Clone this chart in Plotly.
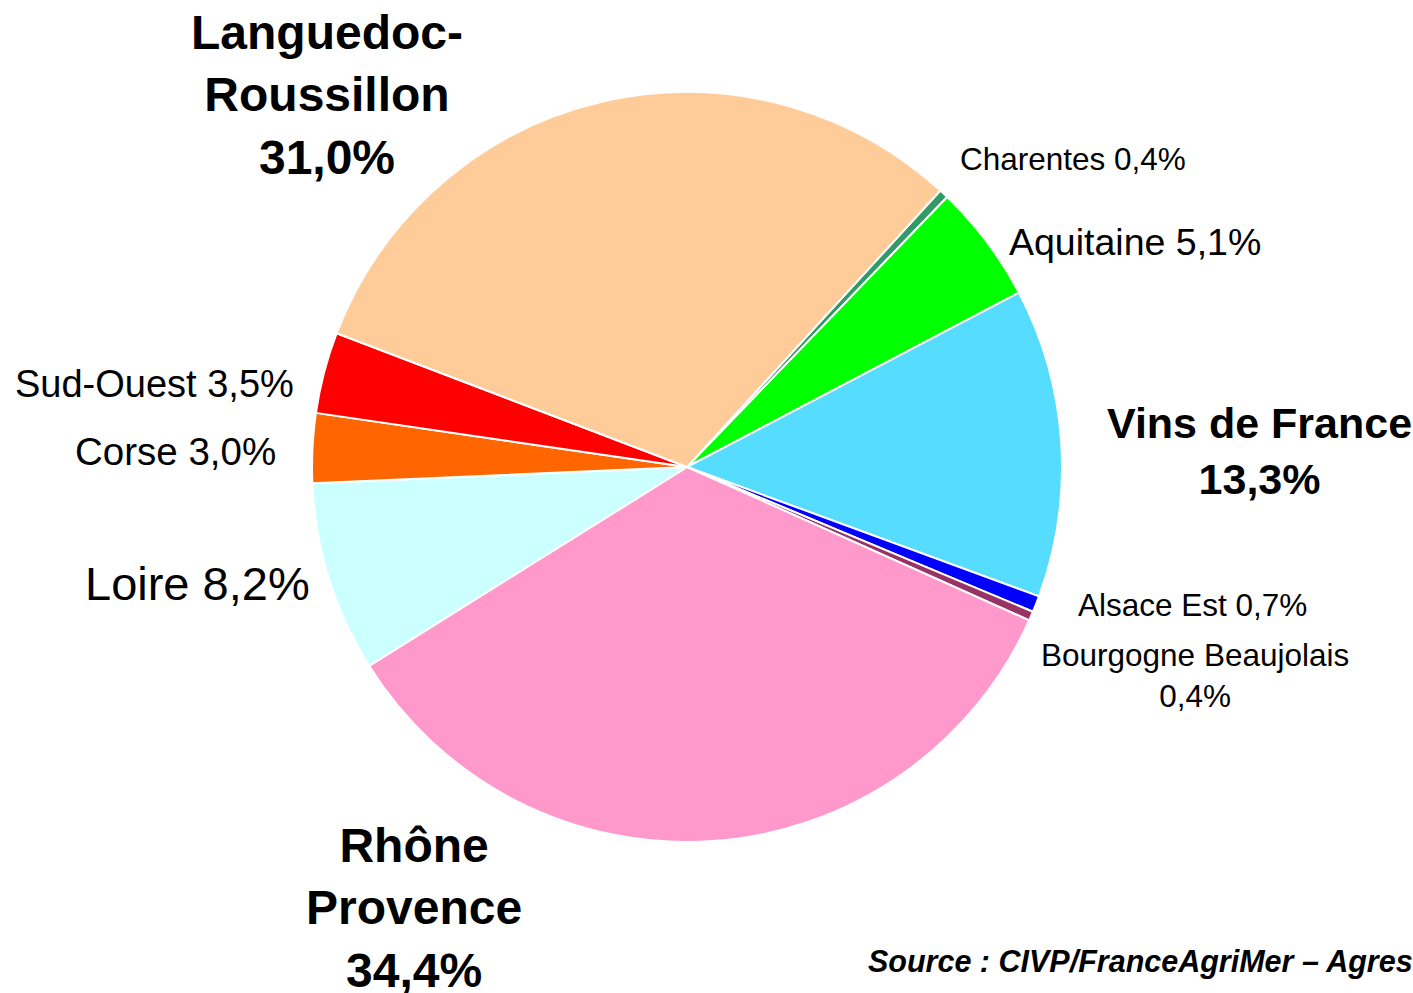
import plotly.graph_objects as go

# ---- data ----
regions = ["Charentes", "Aquitaine", "Vins de France", "Alsace Est",
           "Bourgogne Beaujolais", "Rhône Provence", "Loire", "Corse",
           "Sud-Ouest", "Languedoc-Roussillon"]
shares = [0.4, 5.1, 13.3, 0.7, 0.4, 34.4, 8.2, 3.0, 3.5, 31.0]
label_texts = ["Charentes 0,4%", "Aquitaine 5,1%", "<b>Vins de France<br>13,3%</b>",
               "Alsace Est 0,7%", "Bourgogne Beaujolais<br>0,4%",
               "<b>Rhône<br>Provence<br>34,4%</b>", "Loire 8,2%", "Corse 3,0%",
               "Sud-Ouest 3,5%", "<b>Languedoc-<br>Roussillon<br>31,0%</b>"]
source_text = "<b><i>Source : CIVP/FranceAgriMer – Agreste</i></b>"

# ---- styles ----
colors = ["#339966", "#00FF00", "#55DCFF", "#0000FF", "#993366",
          "#FF99CC", "#CCFFFF", "#FF6600", "#FF0000", "#FFCC99"]
W, H = 1413, 993
# label placement (pixel centre, anchor, font size)
label_pos = [(958, 159, "left", 31.5), (1007, 242, "left", 37.5), (1259, 451, "center", 43),
             (1192, 605, "center", 31.5), (1195, 675, "center", 31.5),
             (414, 908, "center", 48), (197, 583, "center", 47), (175, 451, "center", 38.5),
             (154, 384, "center", 38), (327, 95, "center", 48)]
FONT = "Liberation Sans, Arial, sans-serif"

fig = go.Figure(go.Pie(
    labels=regions, values=shares, sort=False, direction="clockwise",
    rotation=42.5, textinfo="none",
    marker=dict(colors=colors, line=dict(color="white", width=2)),
    domain=dict(x=[312 / W, 1062 / W], y=[1 - 842 / H, 1 - 92 / H]),
    showlegend=False,
))

annotations = []
for txt, (px, py, anc, fs) in zip(label_texts, label_pos):
    annotations.append(dict(
        text=txt, x=px / W, y=1 - py / H, xref="paper", yref="paper",
        xanchor=anc, yanchor="middle", align="center", showarrow=False,
        font=dict(family=FONT, size=fs, color="black")))
annotations.append(dict(
    text=source_text, x=866 / W, y=1 - 961 / H, xref="paper", yref="paper",
    xanchor="left", yanchor="middle", showarrow=False,
    font=dict(family=FONT, size=30.5, color="black")))

fig.update_layout(
    width=W, height=H, margin=dict(l=0, r=0, t=0, b=0),
    paper_bgcolor="white", plot_bgcolor="white",
    annotations=annotations,
)
fig.write_html("out.html", config={"displayModeBar": False},
               post_script="document.body.style.margin='0';")
